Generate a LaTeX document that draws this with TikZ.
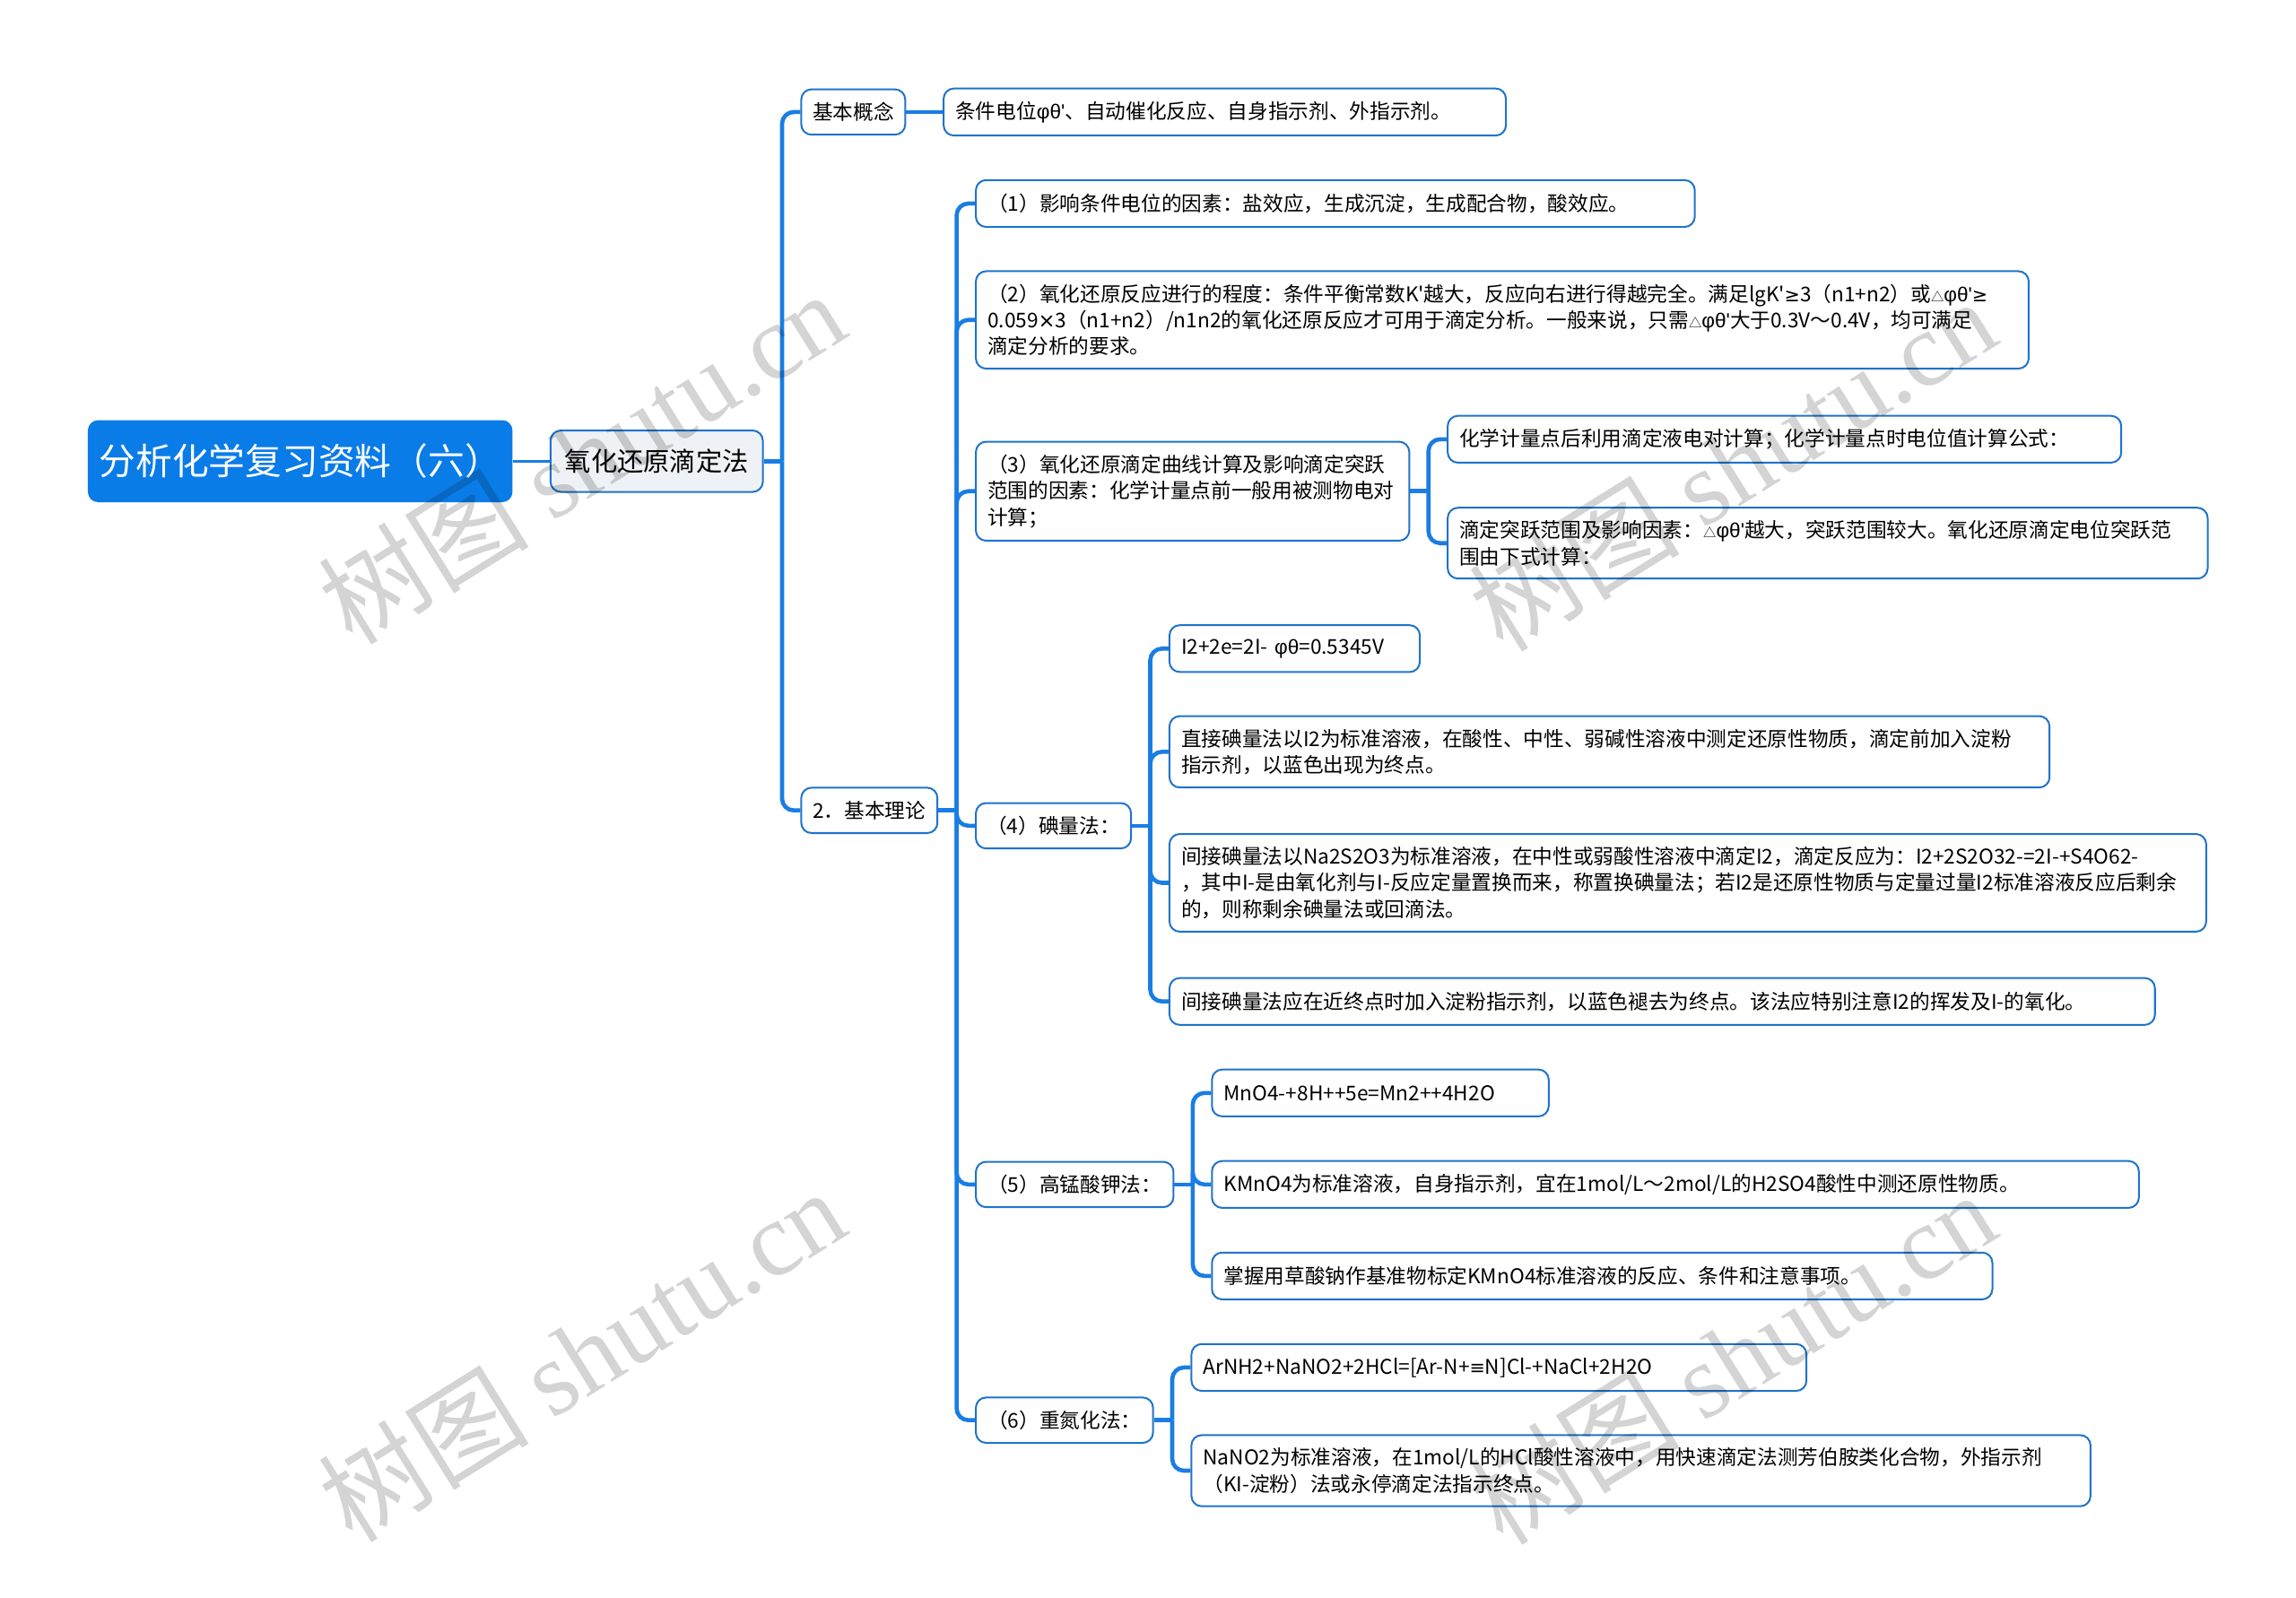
\documentclass[tikz,border=0pt]{standalone}
\usepackage{fontspec}
\setmainfont{Noto Sans CJK SC}[Ligatures=TeXOff]
\newfontfamily\grk{Liberation Sans}
\newfontfamily\symf{DejaVu Sans}
\newfontfamily\wmfont{Liberation Serif}
\usetikzlibrary{positioning}
\definecolor{mapblue}{HTML}{1A7DE3}
\definecolor{rootblue}{HTML}{0A7CE8}
\definecolor{edgeblue}{HTML}{1F73CC}
\definecolor{topicgray}{HTML}{EEF1F5}
\newcommand{\tri}{{\fontsize{5}{5}\selectfont △}}
\newcommand{\phth}{{\grk φθ'}}
\newcommand{\geqs}{{\symf\fontsize{7.2}{10}\selectfont ≥}}

\begin{document}
\begin{tikzpicture}[node distance=0.5cm,
        rootbox/.style={fill=rootblue, rounded corners=4pt, text=white, font=\fontsize{14.2}{17}\selectfont, inner xsep=0.1cm, minimum width=5.8cm, minimum height=1.12cm},
        topic/.style={draw=edgeblue, fill=topicgray, line width=0.7pt, rounded corners=4pt, font=\fontsize{10.2}{12}\selectfont, inner xsep=0.1cm, minimum width=2.9cm, minimum height=0.84cm},
        sub/.style={draw=edgeblue, fill=white, line width=0.7pt, rounded corners=4pt, font=\fontsize{7.9}{10.24}\selectfont, minimum height=0.62cm, inner xsep=0pt},
        leaf/.style={sub, align=left, inner xsep=0.16cm, inner ysep=0.175cm, minimum height=0.64cm},
        link/.style={draw=mapblue, line width=1.6pt, rounded corners=0.16cm},
        wmark/.style={font=\fontsize{41}{41}\selectfont, text=black, text opacity=0.17, rotate=32}]
        \useasboundingbox (0,0) rectangle (31.36,-21.82);
        \node[rootbox] (root) at (4.1,-6.3) {分析化学复习资料（六）};
        \node[topic, right=of root] (redox) {氧化还原滴定法};
        \node[sub, right=of redox, yshift=4.77cm, minimum width=1.42cm] (concept) {基本概念};
        \node[sub, right=of redox, yshift=-4.77cm, minimum width=1.86cm] (theory) {2．基本理论};
        \node[leaf, right=of concept, text width=7.36cm] (conceptleaf) {条件电位\phth、自动催化反应、自身指示剂、外指示剂。};
        % basic theory
        \node[leaf, right=of theory, yshift=8.29cm, text width=9.5cm] (t1) {（1）影响条件电位的因素：盐效应，生成沉淀，生成配合物，酸效应。};
        \node[leaf, right=of theory, yshift=6.7cm, text width=14.06cm] (t2) {（2）氧化还原反应进行的程度：条件平衡常数K'越大，反应向右进行得越完全。满足lgK'\geqs 3（n1+n2）或\tri\phth\geqs\\0.059{\symf ×}3（n1+n2）/n1n2的氧化还原反应才可用于滴定分析。一般来说，只需\tri\phth 大于0.3V～0.4V，均可满足\\滴定分析的要求。};
        \node[leaf, right=of theory, yshift=4.36cm, text width=5.6cm] (t3) {（3）氧化还原滴定曲线计算及影响滴定突跃\\范围的因素：化学计量点前一般用被测物电对\\计算；};
        \node[sub, right=of theory, yshift=-0.21cm, minimum width=2.12cm] (t4) {（4）碘量法：};
        \node[sub, right=of theory, yshift=-5.11cm, minimum width=2.7cm] (t5) {（5）高锰酸钾法：};
        \node[sub, right=of theory, yshift=-8.33cm, minimum width=2.42cm] (t6) {（6）重氮化法：};
        % (3)
        \node[leaf, right=of t3, yshift=0.71cm, text width=8.88cm] (t3a) {化学计量点后利用滴定液电对计算；化学计量点时电位值计算公式：};
        \node[leaf, right=of t3, yshift=-0.71cm, text width=10.06cm] (t3b) {滴定突跃范围及影响因素：\tri\phth 越大，突跃范围较大。氧化还原滴定电位突跃范\\围由下式计算：};
        % (4)
        \node[leaf, right=of t4, yshift=2.42cm, text width=3.1cm] (t4a) {I2+2e=2I- {\grk φθ}=0.5345V};
        \node[leaf, right=of t4, yshift=1.01cm, text width=11.7cm] (t4b) {直接碘量法以I2为标准溶液，在酸性、中性、弱碱性溶液中测定还原性物质，滴定前加入淀粉\\指示剂，以蓝色出现为终点。};
        \node[leaf, right=of t4, yshift=-0.78cm, text width=13.84cm] (t4c) {间接碘量法以Na2S2O3为标准溶液，在中性或弱酸性溶液中滴定I2，滴定反应为：I2+2S2O32-=2I-+S4O62-\\，其中I-是由氧化剂与I-反应定量置换而来，称置换碘量法；若I2是还原性物质与定量过量I2标准溶液反应后剩余\\的，则称剩余碘量法或回滴法。};
        \node[leaf, right=of t4, yshift=-2.4cm, text width=13.14cm] (t4d) {间接碘量法应在近终点时加入淀粉指示剂，以蓝色褪去为终点。该法应特别注意I2的挥发及I-的氧化。};
        % (5)
        \node[leaf, right=of t5, yshift=1.25cm, text width=4.28cm] (t5a) {MnO4-+8H++5e=Mn2++4H2O};
        \node[leaf, right=of t5, text width=12.34cm] (t5b) {KMnO4为标准溶液，自身指示剂，宜在1mol/L～2mol/L的H2SO4酸性中测还原性物质。};
        \node[leaf, right=of t5, yshift=-1.25cm, text width=10.34cm] (t5c) {掌握用草酸钠作基准物标定KMnO4标准溶液的反应、条件和注意事项。};
        % (6)
        \node[leaf, right=of t6, yshift=0.72cm, text width=8.08cm] (t6a) {ArNH2+NaNO2+2HCl=[Ar-N+{\symf\fontsize{7.2}{10}\selectfont ≡}N]Cl-+NaCl+2H2O};
        \node[leaf, right=of t6, yshift=-0.69cm, text width=11.96cm] (t6b) {NaNO2为标准溶液，在1mol/L的HCl酸性溶液中，用快速滴定法测芳伯胺类化合物，外指示剂\\（KI-淀粉）法或永停滴定法指示终点。};
        % branches
        \draw[link, line width=1.2pt] (root.east) -- (redox.west);
        \draw[link] (redox.east) -- ++(0.25,0) coordinate (redox-j);
        \foreach \c in {concept,theory} \draw[link] (redox-j) |- (\c.west);
        \draw[link] (concept.east) -- (conceptleaf.west);
        \draw[link] (theory.east) -- ++(0.25,0) coordinate (theory-j);
        \foreach \c in {t1,t2,t3,t4,t5,t6} \draw[link] (theory-j) |- (\c.west);
        \draw[link] (t3.east) -- ++(0.25,0) coordinate (t3-j);
        \foreach \c in {t3a,t3b} \draw[link] (t3-j) |- (\c.west);
        \draw[link] (t4.east) -- ++(0.25,0) coordinate (t4-j);
        \foreach \c in {t4a,t4b,t4c,t4d} \draw[link] (t4-j) |- (\c.west);
        \draw[link] (t5.east) -- ++(0.25,0) coordinate (t5-j);
        \foreach \c in {t5a,t5b,t5c} \draw[link] (t5-j) |- (\c.west);
        \draw[link] (t6.east) -- ++(0.25,0) coordinate (t6-j);
        \foreach \c in {t6a,t6b} \draw[link] (t6-j) |- (\c.west);
        % watermarks
        \foreach \x/\y/\n in {7.94/-6.24/1, 23.66/-6.34/2, 7.94/-18.5/3, 23.66/-18.54/4}
            \node[wmark] (wm\n) at (\x,\y) {树图 {\wmfont shutu.cn}};
    \end{tikzpicture}
\end{document}
